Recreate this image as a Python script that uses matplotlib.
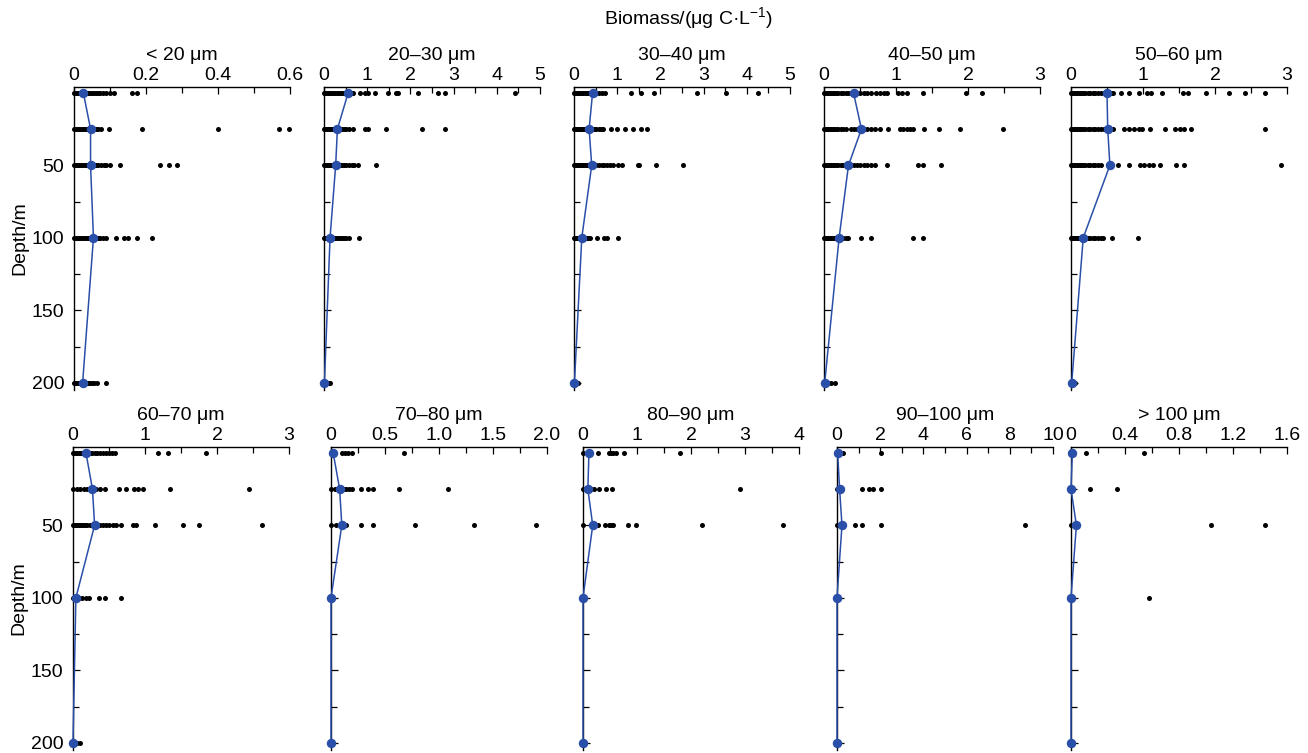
import matplotlib
matplotlib.use('Agg')
import matplotlib.pyplot as plt
from matplotlib.ticker import MultipleLocator, FuncFormatter

plt.rcParams['font.family'] = ['Liberation Sans', 'DejaVu Sans']
plt.rcParams['mathtext.fontset'] = 'custom'
plt.rcParams['mathtext.rm'] = 'Liberation Sans'
plt.rcParams['mathtext.it'] = 'Liberation Sans:italic'

depths = [0, 25, 50, 100, 200]
size_classes = ['< 20 μm', '20–30 μm', '30–40 μm', '40–50 μm', '50–60 μm',
                '60–70 μm', '70–80 μm', '80–90 μm', '90–100 μm', '> 100 μm']
x_max = [0.6, 5, 5, 3, 3, 3, 2.0, 4, 10, 1.6]
x_step = [0.2, 1, 1, 1, 1, 1, 0.5, 1, 2, 0.4]

# single samples, one list per depth (0, 25, 50, 100, 200 m)
pts_lt20 = [
    [0, 0.005, 0.01, 0.015, 0.02, 0.025, 0.03, 0.035, 0.04, 0.045, 0.05, 0.055,
     0.06, 0.066, 0.072, 0.08, 0.09, 0.1, 0.112, 0.16, 0.175],
    [0, 0.005, 0.01, 0.015, 0.02, 0.025, 0.03, 0.035, 0.04, 0.045, 0.05, 0.055,
     0.06, 0.068, 0.076, 0.098, 0.188, 0.40, 0.57, 0.596],
    [0, 0.005, 0.01, 0.015, 0.02, 0.025, 0.03, 0.035, 0.04, 0.045, 0.05, 0.055,
     0.06, 0.066, 0.075, 0.082, 0.09, 0.1, 0.128, 0.24, 0.265, 0.285],
    [0, 0.005, 0.01, 0.015, 0.02, 0.025, 0.03, 0.035, 0.04, 0.045, 0.05, 0.055,
     0.06, 0.066, 0.072, 0.08, 0.09, 0.117, 0.139, 0.151, 0.176, 0.218],
    [0, 0.005, 0.01, 0.015, 0.02, 0.025, 0.03, 0.035, 0.04, 0.045, 0.05, 0.056,
     0.065, 0.09],
]
pts_20_30 = [
    [0, 0.03, 0.06, 0.09, 0.12, 0.15, 0.18, 0.21, 0.25, 0.29, 0.33, 0.37, 0.42,
     0.47, 0.52, 0.58, 0.64, 0.68, 0.83, 0.95, 1.03, 1.17, 1.47, 1.66, 1.72,
     2.18, 2.63, 2.79, 4.42],
    [0, 0.03, 0.06, 0.09, 0.12, 0.15, 0.18, 0.21, 0.25, 0.29, 0.33, 0.37, 0.42,
     0.47, 0.52, 0.58, 0.68, 0.95, 1.03, 1.44, 2.28, 2.79],
    [0, 0.03, 0.06, 0.09, 0.12, 0.15, 0.18, 0.21, 0.25, 0.29, 0.33, 0.37, 0.42,
     0.47, 0.52, 0.58, 0.64, 0.7, 0.79, 1.2],
    [0, 0.03, 0.06, 0.09, 0.12, 0.15, 0.18, 0.21, 0.25, 0.29, 0.33, 0.37, 0.42,
     0.47, 0.52, 0.59, 0.82],
    [0, 0.03, 0.07, 0.1, 0.14],
]
pts_30_40 = [
    [0, 0.03, 0.06, 0.09, 0.12, 0.15, 0.18, 0.21, 0.25, 0.29, 0.33, 0.37, 0.42,
     0.47, 0.52, 0.58, 0.64, 0.72, 1.33, 1.54, 1.85, 2.84, 3.51, 4.27],
    [0, 0.03, 0.06, 0.09, 0.12, 0.15, 0.18, 0.21, 0.25, 0.29, 0.33, 0.37, 0.42,
     0.47, 0.52, 0.58, 0.63, 0.68, 0.85, 1.0, 1.18, 1.37, 1.55, 1.70],
    [0, 0.03, 0.06, 0.09, 0.12, 0.15, 0.18, 0.21, 0.25, 0.29, 0.33, 0.37, 0.42,
     0.47, 0.52, 0.58, 0.64, 0.7, 0.77, 0.83, 0.91, 1.03, 1.10, 1.47, 1.51,
     1.89, 2.52],
    [0, 0.03, 0.06, 0.09, 0.12, 0.15, 0.18, 0.21, 0.25, 0.29, 0.33, 0.37, 0.54,
     0.70, 0.76, 1.03],
    [0, 0.03, 0.06, 0.1],
]
pts_40_50 = [
    [0, 0.02, 0.04, 0.06, 0.08, 0.1, 0.12, 0.14, 0.17, 0.2, 0.23, 0.26, 0.3,
     0.34, 0.38, 0.42, 0.46, 0.5, 0.55, 0.6, 0.65, 0.72, 0.78, 0.83, 0.88,
     1.03, 1.08, 1.15, 1.38, 1.97, 2.2],
    [0, 0.02, 0.04, 0.06, 0.08, 0.1, 0.12, 0.14, 0.17, 0.2, 0.23, 0.26, 0.3,
     0.38, 0.42, 0.46, 0.5, 0.55, 0.6, 0.65, 0.71, 0.78, 0.89, 1.05, 1.1, 1.15,
     1.2, 1.24, 1.39, 1.60, 1.89, 2.48],
    [0, 0.02, 0.04, 0.06, 0.08, 0.1, 0.12, 0.14, 0.17, 0.2, 0.23, 0.26, 0.3,
     0.34, 0.38, 0.42, 0.46, 0.5, 0.55, 0.6, 0.65, 0.71, 0.87, 1.30, 1.38,
     1.63],
    [0, 0.02, 0.04, 0.06, 0.08, 0.1, 0.12, 0.14, 0.17, 0.2, 0.23, 0.26, 0.3,
     0.34, 0.51, 0.65, 1.23, 1.38],
    [0, 0.03, 0.06, 0.1, 0.15],
]
pts_50_60 = [
    [0, 0.02, 0.04, 0.06, 0.08, 0.1, 0.12, 0.14, 0.17, 0.2, 0.23, 0.26, 0.3,
     0.34, 0.38, 0.42, 0.46, 0.5, 0.55, 0.59, 0.70, 0.80, 0.94, 1.06, 1.11,
     1.26, 1.56, 1.63, 1.88, 2.19, 2.42, 2.69],
    [0, 0.02, 0.04, 0.06, 0.08, 0.1, 0.12, 0.14, 0.17, 0.2, 0.23, 0.26, 0.3,
     0.34, 0.38, 0.42, 0.46, 0.5, 0.59, 0.73, 0.8, 0.87, 0.94, 0.99, 1.10,
     1.30, 1.44, 1.52, 1.57, 1.67, 2.69],
    [0, 0.02, 0.04, 0.06, 0.08, 0.1, 0.12, 0.14, 0.17, 0.2, 0.23, 0.26, 0.3,
     0.34, 0.38, 0.41, 0.65, 0.80, 0.96, 1.02, 1.08, 1.14, 1.24, 1.46, 1.57,
     2.92],
    [0, 0.02, 0.04, 0.06, 0.08, 0.1, 0.12, 0.14, 0.17, 0.2, 0.23, 0.26, 0.3,
     0.34, 0.38, 0.42, 0.45, 0.57, 0.93],
    [0, 0.03, 0.06],
]
pts_60_70 = [
    [0, 0.02, 0.04, 0.06, 0.08, 0.1, 0.12, 0.14, 0.17, 0.2, 0.23, 0.26, 0.3,
     0.34, 0.38, 0.42, 0.46, 0.5, 0.54, 0.58, 1.18, 1.32, 1.85],
    [0, 0.05, 0.1, 0.15, 0.2, 0.27, 0.32, 0.38, 0.45, 0.64, 0.74, 0.85, 0.9,
     0.97, 1.35, 2.45],
    [0, 0.02, 0.04, 0.06, 0.08, 0.1, 0.12, 0.14, 0.17, 0.2, 0.23, 0.26, 0.3,
     0.34, 0.38, 0.42, 0.46, 0.5, 0.55, 0.6, 0.67, 0.84, 0.88, 1.14, 1.53,
     1.75, 2.63],
    [0, 0.04, 0.08, 0.13, 0.18, 0.22, 0.36, 0.45, 0.66],
    [0, 0.05, 0.1],
]
pts_70_80 = [
    [0, 0.1, 0.13, 0.16, 0.19, 0.68],
    [0, 0.04, 0.07, 0.12, 0.14, 0.17, 0.19, 0.28, 0.34, 0.39, 0.63, 1.08],
    [0, 0.05, 0.09, 0.14, 0.28, 0.39, 0.78, 1.32, 1.90],
    [],
    [],
]
pts_80_90 = [
    [0, 0.28, 0.49, 0.52, 0.55, 0.61, 0.75, 1.79],
    [0, 0.06, 0.15, 0.21, 0.29, 0.42, 0.53, 2.91],
    [0, 0.28, 0.40, 0.49, 0.52, 0.55, 0.83, 0.98, 2.20, 3.71],
    [],
    [],
]
pts_90_100 = [
    [0, 0.28, 2.03],
    [0, 1.18, 1.46, 1.66, 2.03],
    [0, 0.82, 1.15, 2.03, 8.71],
    [],
    [],
]
pts_gt100 = [
    [0.11, 0.54],
    [0.14, 0.34],
    [0, 1.04, 1.44],
    [0.58],
    [],
]

# mean profile per size class
mean_lt20 = [0.026, 0.046, 0.046, 0.054, 0.024]
mean_20_30 = [0.56, 0.31, 0.27, 0.14, 0.01]
mean_30_40 = [0.43, 0.35, 0.41, 0.18, 0.01]
mean_40_50 = [0.41, 0.52, 0.34, 0.21, 0.01]
mean_50_60 = [0.50, 0.51, 0.54, 0.17, 0.01]
mean_60_70 = [0.18, 0.27, 0.30, 0.04, 0.0]
mean_70_80 = [0.02, 0.08, 0.10, 0.0, 0.0]
mean_80_90 = [0.11, 0.09, 0.18, 0.0, 0.0]
mean_90_100 = [0.03, 0.12, 0.23, 0.0, 0.0]
mean_gt100 = [0.01, 0.0, 0.04, 0.0, 0.0]

points = [pts_lt20, pts_20_30, pts_30_40, pts_40_50, pts_50_60,
          pts_60_70, pts_70_80, pts_80_90, pts_90_100, pts_gt100]
means = [mean_lt20, mean_20_30, mean_30_40, mean_40_50, mean_50_60,
         mean_60_70, mean_70_80, mean_80_90, mean_90_100, mean_gt100]

W, H = 1308, 753
fig = plt.figure(figsize=(W / 100, H / 100), dpi=100)

# panel placement in pixels
lefts = [74, 324, 574, 824, 1071, 73, 331, 583, 837, 1071]
tops = [87] * 5 + [447] * 5
pw, ph = 216, 303
blue = '#2a4fa8'
fs = 14


def fmt(step):
    def f(v, pos):
        if abs(v) < 1e-9:
            return '0'
        if step >= 1:
            return '%d' % round(v)
        return '%.1f' % v
    return FuncFormatter(f)


for i in range(10):
    ax = fig.add_axes([lefts[i] / W, 1 - (tops[i] + ph) / H, pw / W, ph / H])
    for d, vals in zip(depths, points[i]):
        if vals:
            ax.scatter(vals, [d] * len(vals), s=13, color='black',
                       linewidths=0, zorder=3, clip_on=False)
    ax.plot(means[i], depths, color=blue, lw=1.1, marker='o', ms=5.8,
            zorder=4, clip_on=False)

    ax.set_xlim(0, x_max[i])
    ax.set_ylim(205, -4)
    ax.xaxis.set_major_locator(MultipleLocator(x_step[i]))
    ax.xaxis.set_minor_locator(MultipleLocator(x_step[i] / 2))
    ax.xaxis.set_major_formatter(fmt(x_step[i]))
    ax.set_yticks([50, 100, 150, 200])
    ax.set_yticks([25, 75, 125, 175], minor=True)

    for s in ['right', 'bottom']:
        ax.spines[s].set_visible(False)
    for s in ['left', 'top']:
        ax.spines[s].set_linewidth(1.0)
    ax.xaxis.tick_top()
    ax.tick_params(which='both', direction='in', top=True, bottom=False,
                   left=True, right=False, width=0.9, labelsize=fs)
    ax.tick_params(axis='x', pad=2)
    ax.tick_params(axis='y', pad=7)
    ax.tick_params(which='major', length=5)
    ax.tick_params(which='minor', length=4)
    ax.set_title(size_classes[i], fontsize=fs, pad=5)
    if i % 5 == 0:
        ax.set_ylabel('Depth/m', fontsize=fs, labelpad=2)
    else:
        ax.tick_params(axis='y', labelleft=False)

fig.text(689 / W, 1 - 18 / H, 'Biomass/(μg C·L$^{-1}$)', ha='center',
         va='center', fontsize=fs)

fig.savefig('out.png', dpi=100)
